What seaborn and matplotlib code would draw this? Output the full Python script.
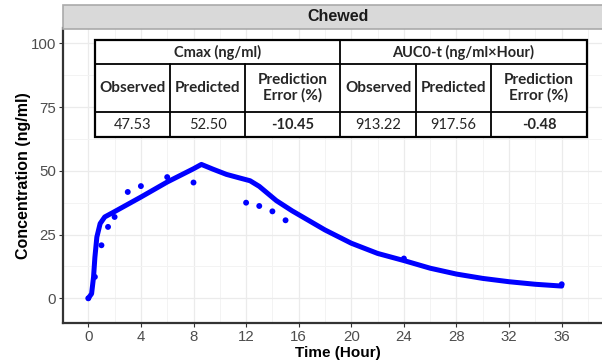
import numpy as np
import pandas as pd
import matplotlib
matplotlib.use("Agg")
import matplotlib.pyplot as plt
from matplotlib.patches import Rectangle
from matplotlib.lines import Line2D
from matplotlib.ticker import MultipleLocator
import seaborn as sns

# Predicted (model) concentration-time profile
pred_time = [0, 0.25, 0.4, 0.5, 0.65, 0.9, 1.25, 2, 4, 6, 8, 8.6, 9.5, 10.5, 11.5,
             12.3, 13, 14.3, 15.5, 16, 18, 20, 22, 24, 26, 28, 30, 32, 34, 36]
pred_conc = [0, 1.8, 8.4, 16, 24, 29.3, 31.9, 34, 39.7, 45.6, 50.8, 52.5, 50.6, 48.6, 47.2,
             46.1, 43.9, 38.3, 34.3, 32.8, 26.8, 21.6, 17.6, 14.8, 11.8, 9.5, 7.8, 6.5, 5.5, 4.8]

# Observed concentrations
obs_time = [0, 0.5, 1, 1.5, 2, 3, 4, 6, 8, 12, 13, 14, 15, 24, 36]
obs_conc = [0, 8.4, 20.8, 28, 31.9, 41.7, 44, 47.53, 45.4, 37.5, 36.2, 34.1, 30.6, 15.6, 5.5]

panel_title = "Chewed"
x_ticks = [0, 4, 8, 12, 16, 20, 24, 28, 32, 36]
y_ticks = [0, 25, 50, 75, 100]

# PK summary table
group_headers = ["Cmax (ng/ml)", "AUC0-t (ng/ml\u00d7Hour)"]
col_headers = ["Observed", "Predicted", "Prediction\nError (%)"] * 2
table_values = ["47.53", "52.50", "-10.45", "913.22", "917.56", "-0.48"]

sns.set_theme(style="whitegrid")
plt.rcParams["font.family"] = ["Liberation Sans", "DejaVu Sans"]

W, H = 602, 363
fig = plt.figure(figsize=(W / 100, H / 100), dpi=100)
# the panel runs slightly past the right edge of the canvas
ax_left, ax_right, ax_bottom, ax_top = 63.3, 613, 323.3, 28.5
x_zero_px, px_per_hour = 88.3, 13.15
ax = fig.add_axes([ax_left / W, (H - ax_bottom) / H,
                   (ax_right - ax_left) / W, (ax_bottom - ax_top) / H])

pred_df = pd.DataFrame({"Time": pred_time, "Conc": pred_conc})
obs_df = pd.DataFrame({"Time": obs_time, "Conc": obs_conc})

sns.lineplot(data=pred_df, x="Time", y="Conc", ax=ax, color="#0000FF",
             linewidth=3.6, solid_capstyle="round", solid_joinstyle="round", zorder=3)
sns.scatterplot(data=obs_df, x="Time", y="Conc", ax=ax, color="#0000FF",
                s=18, edgecolor="none", zorder=4)

ax.set_xlim((ax_left - x_zero_px) / px_per_hour, (ax_right - x_zero_px) / px_per_hour)
ax.set_ylim(-9.8, 105.8)
ax.set_xticks(x_ticks)
ax.set_yticks(y_ticks)
ax.xaxis.set_minor_locator(MultipleLocator(2))
ax.yaxis.set_minor_locator(MultipleLocator(12.5))
ax.set_facecolor("white")
ax.grid(which="major", color="#EBEBEB", linewidth=0.9)
ax.grid(which="minor", color="#F3F3F3", linewidth=0.7)
ax.set_axisbelow(True)

for side in ["top", "right"]:
    ax.spines[side].set_visible(False)
for side in ["left", "bottom"]:
    ax.spines[side].set_color("#333333")
    ax.spines[side].set_linewidth(1.6)

ax.tick_params(axis="both", which="major", length=3, width=0.8, color="#333333",
               labelsize=10.8, labelcolor="#4D4D4D", pad=2, bottom=True, left=True)
ax.tick_params(axis="both", which="minor", length=0)
ax.set_xlabel("Time (Hour)", fontsize=11, fontweight="bold", color="black", labelpad=1)
ax.set_ylabel("Concentration (ng/ml)", fontsize=11.5, fontweight="bold", color="black", labelpad=0)


def fx(px):
    return px / W


def fy(py):
    return (H - py) / H


# Facet strip
strip_top, strip_bot = 5, 28.5
fig.patches.append(Rectangle((fx(ax_left), fy(strip_bot)), fx(ax_right) - fx(ax_left),
                             fy(strip_top) - fy(strip_bot), transform=fig.transFigure,
                             facecolor="#D9D9D9", edgecolor="#AAAAAA", linewidth=1.2))
fig.text(fx((ax_left + ax_right) / 2), fy((strip_top + strip_bot) / 2), panel_title,
         ha="center", va="center", fontsize=11.5, fontweight="bold", color="#1A1A1A")

# Summary table drawn over the plot panel
col_x = [95, 170, 245, 340, 416, 491, 587]
row_y = [40, 64.3, 111.7, 136.7]
tfont = ["Lato", "DejaVu Sans"]

fig.patches.append(Rectangle((fx(col_x[0]), fy(row_y[-1])), fx(col_x[-1]) - fx(col_x[0]),
                             fy(row_y[0]) - fy(row_y[-1]), transform=fig.transFigure,
                             facecolor="white", edgecolor="black", linewidth=1.6, zorder=5))


def hline(y, x0, x1, lw=1.3):
    fig.add_artist(Line2D([fx(x0), fx(x1)], [fy(y), fy(y)], color="black", lw=lw, zorder=6))


def vline(x, y0, y1, lw=1.3):
    fig.add_artist(Line2D([fx(x), fx(x)], [fy(y0), fy(y1)], color="black", lw=lw, zorder=6))


hline(row_y[1], col_x[0], col_x[-1])
hline(row_y[2], col_x[0], col_x[-1])
vline(col_x[3], row_y[0], row_y[-1])
for i in [1, 2, 4, 5]:
    vline(col_x[i], row_y[1], row_y[-1])

for g, label in enumerate(group_headers):
    xc = (col_x[3 * g] + col_x[3 * g + 3]) / 2
    fig.text(fx(xc), fy((row_y[0] + row_y[1]) / 2 + 0.5), label, ha="center", va="center",
             fontsize=10.5, fontweight="bold", family=tfont, zorder=7)

for i, label in enumerate(col_headers):
    xc = (col_x[i] + col_x[i + 1]) / 2
    fig.text(fx(xc), fy((row_y[1] + row_y[2]) / 2), label, ha="center", va="center",
             fontsize=11, fontweight="bold", family=tfont, linespacing=1.05, zorder=7)

for i, val in enumerate(table_values):
    xc = (col_x[i] + col_x[i + 1]) / 2
    bold = "bold" if i % 3 == 2 else "normal"
    fig.text(fx(xc), fy((row_y[2] + row_y[3]) / 2 + 1), val, ha="center", va="center",
             fontsize=10.5, fontweight=bold, family=tfont, zorder=7)

fig.savefig("out.png", dpi=100)
